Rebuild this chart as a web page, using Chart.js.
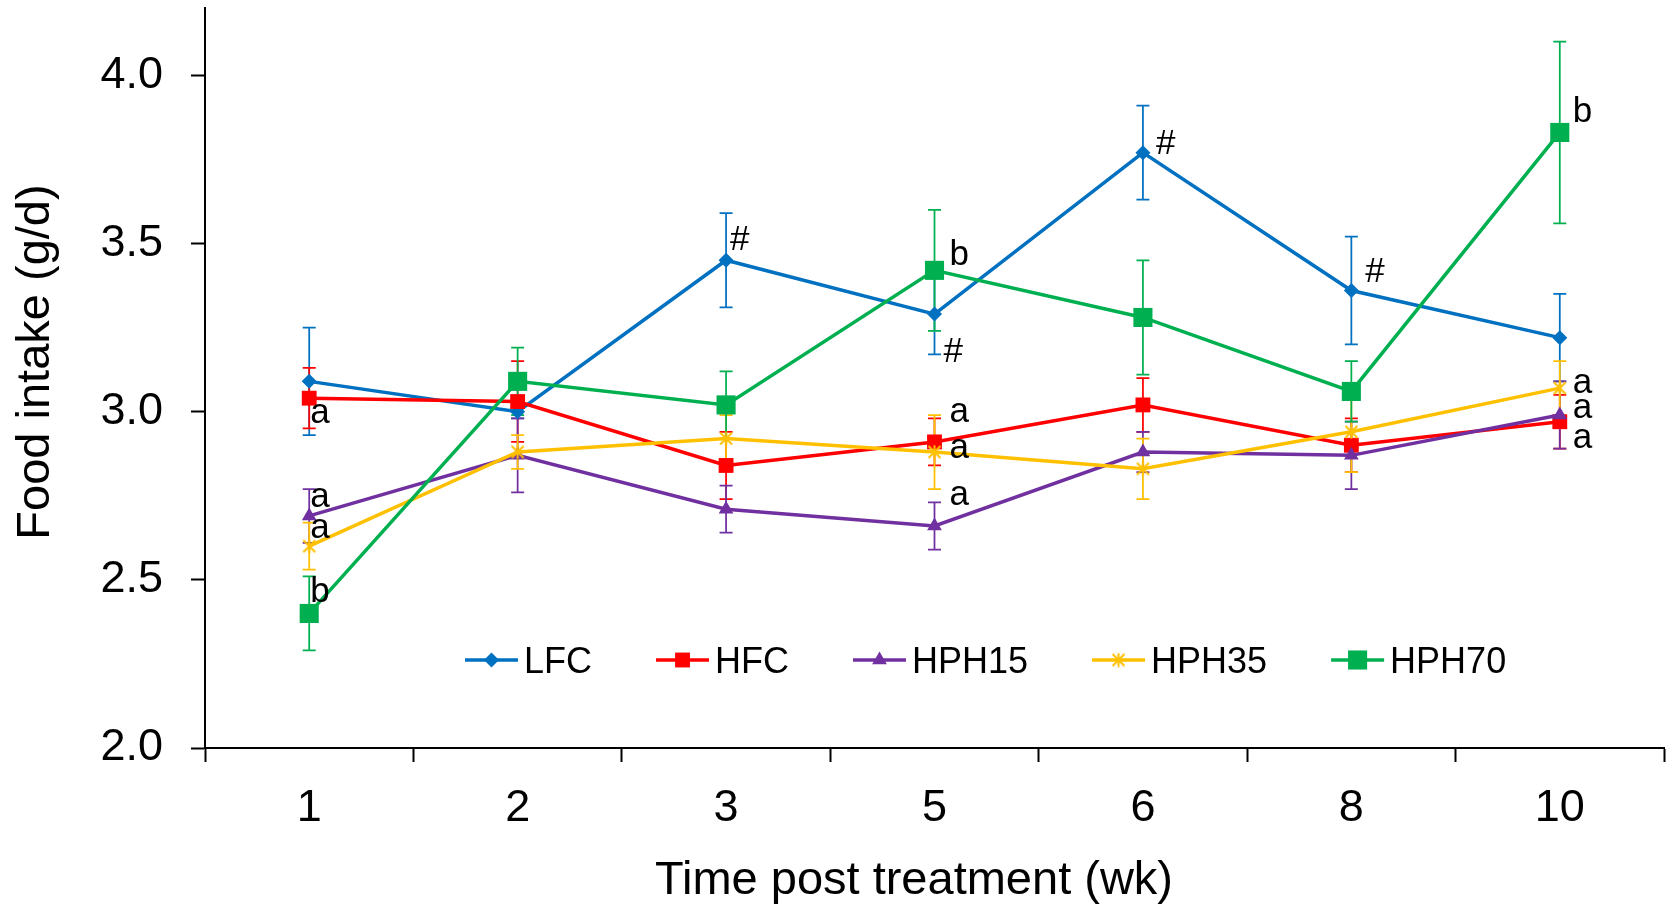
<!DOCTYPE html>
<html><head><meta charset="utf-8">
<script src="https://cdn.jsdelivr.net/npm/chart.js@4.4.0/dist/chart.umd.min.js"></script>
<style>html,body{margin:0;padding:0;background:#fff}#wrap{width:1669px;height:906px;position:relative}canvas{display:block}</style>
</head><body><div id="wrap"><canvas id="c" width="1669" height="906"></canvas></div>
<script>
// ---------- DATA ----------
const categories = ['1', '2', '3', '5', '6', '8', '10'];
const seriesNames = ['LFC', 'HFC', 'HPH15', 'HPH35', 'HPH70'];
const LFC       = [3.09, 3.00, 3.45, 3.29, 3.77, 3.36, 3.22];
const LFC_err   = [0.16, 0.02, 0.14, 0.12, 0.14, 0.16, 0.13];
const HFC       = [3.04, 3.03, 2.84, 2.91, 3.02, 2.90, 2.97];
const HFC_err   = [0.09, 0.12, 0.10, 0.07, 0.08, 0.08, 0.08];
const HPH15     = [2.69, 2.87, 2.71, 2.66, 2.88, 2.87, 2.99];
const HPH15_err = [0.08, 0.11, 0.07, 0.07, 0.06, 0.10, 0.10];
const HPH35     = [2.60, 2.88, 2.92, 2.88, 2.83, 2.94, 3.07];
const HPH35_err = [0.07, 0.05, 0.07, 0.11, 0.09, 0.12, 0.08];
const HPH70     = [2.40, 3.09, 3.02, 3.42, 3.28, 3.06, 3.83];
const HPH70_err = [0.11, 0.10, 0.10, 0.18, 0.17, 0.09, 0.27];
const yTicks = [2.0, 2.5, 3.0, 3.5, 4.0];
const yMin = 2.0, yMax = 4.2;
const xTitle = 'Time post treatment (wk)';
const yTitle = 'Food intake (g/d)';
// significance letters: category index, value (text baseline), text
const annCat   = [0, 0, 0, 0, 2, 3, 3, 3, 3, 3, 4, 5, 6, 6, 6, 6];
const annValue = [2.965, 2.717, 2.623, 2.435, 3.48, 3.435, 3.148, 2.968, 2.863, 2.722, 3.765, 3.386, 3.861, 3.054, 2.98, 2.891];
const annText  = ['a', 'a', 'a', 'b', '#', 'b', '#', 'a', 'a', 'a', '#', '#', 'b', 'a', 'a', 'a'];

// ---------- STYLE ----------
const FONT = "'Liberation Sans', Arial, Helvetica, sans-serif";
const colors = ['#0070C0', '#FF0000', '#7030A0', '#FFC000', '#00B050'];
const annDx = [1, 1, 1, 1, 4, 15, 9, 15, 15, 15, 13, 14, 13, 13, 13, 13];

function makeStar(color, size) {
  const c = document.createElement('canvas');
  c.width = size; c.height = size;
  const g = c.getContext('2d');
  g.strokeStyle = color; g.lineWidth = 2; g.lineCap = 'butt';
  const p = 1.5, q = size - 1.5, m = size / 2;
  g.beginPath();
  g.moveTo(p, p); g.lineTo(q, q);
  g.moveTo(q, p); g.lineTo(p, q);
  g.moveTo(m, 0.5); g.lineTo(m, size - 0.5);
  g.stroke();
  return c;
}
const starImg = makeStar(colors[3], 15);
const pointStyles = ['rectRot', 'rect', 'triangle', starImg, 'rect'];
const pointRadii = [7.5, 10.5, 8.5, 7.5, 13.5];

const values = [LFC, HFC, HPH15, HPH35, HPH70];
const errors = [LFC_err, HFC_err, HPH15_err, HPH35_err, HPH70_err];

const datasets = seriesNames.map((n, i) => ({
  label: n,
  data: values[i],
  borderColor: colors[i],
  backgroundColor: colors[i],
  borderWidth: 3.5,
  pointStyle: pointStyles[i],
  pointRadius: pointRadii[i],
  pointHoverRadius: pointRadii[i],
  pointBorderWidth: 0,
  pointBackgroundColor: colors[i],
  pointBorderColor: colors[i],
  tension: 0,
  clip: false,
  order: seriesNames.length - i
}));

const errorBarPlugin = {
  id: 'errorBars',
  beforeDatasetsDraw(chart) {
    const ctx = chart.ctx, xs = chart.scales.x, ys = chart.scales.y;
    ctx.save();
    ctx.lineWidth = 1.75;
    values.forEach((vals, si) => {
      ctx.strokeStyle = colors[si];
      vals.forEach((v, ci) => {
        const x = xs.getPixelForValue(ci);
        const yt = ys.getPixelForValue(v + errors[si][ci]);
        const yb = ys.getPixelForValue(v - errors[si][ci]);
        ctx.beginPath();
        ctx.moveTo(x, yt); ctx.lineTo(x, yb);
        ctx.moveTo(x - 6.5, yt); ctx.lineTo(x + 6.5, yt);
        ctx.moveTo(x - 6.5, yb); ctx.lineTo(x + 6.5, yb);
        ctx.stroke();
      });
    });
    ctx.restore();
  }
};

const annotationPlugin = {
  id: 'annotations',
  afterDatasetsDraw(chart) {
    const ctx = chart.ctx, xs = chart.scales.x, ys = chart.scales.y;
    ctx.save();
    ctx.fillStyle = '#000';
    ctx.font = '35px ' + FONT;
    ctx.textAlign = 'left';
    ctx.textBaseline = 'alphabetic';
    annText.forEach((t, i) => {
      ctx.fillText(t, xs.getPixelForValue(annCat[i]) + annDx[i], ys.getPixelForValue(annValue[i]));
    });
    ctx.restore();
  }
};

const legendTitlePlugin = {
  id: 'legendTitles',
  afterDraw(chart) {
    const ctx = chart.ctx;
    const H = Chart.helpers;
    ctx.save();
    // legend
    const ly = 660;
    let x = 465;
    ctx.font = '36px ' + FONT;
    ctx.textBaseline = 'alphabetic';
    ctx.textAlign = 'left';
    seriesNames.forEach((n, i) => {
      ctx.strokeStyle = colors[i];
      ctx.lineWidth = 3.5;
      ctx.beginPath(); ctx.moveTo(x, ly); ctx.lineTo(x + 53, ly); ctx.stroke();
      ctx.fillStyle = colors[i];
      H.drawPoint(ctx, { pointStyle: pointStyles[i], radius: pointRadii[i], rotation: 0, borderWidth: 0 }, x + 26.5, ly);
      ctx.fillStyle = '#000';
      const tx = x + 59;
      ctx.fillText(n, tx, ly + 13);
      x = tx + ctx.measureText(n).width + 64;
    });
    // axis titles
    ctx.font = '47px ' + FONT;
    ctx.fillStyle = '#000';
    ctx.textAlign = 'center';
    ctx.fillText(xTitle, 914, 894);
    ctx.translate(49, 362);
    ctx.rotate(-Math.PI / 2);
    ctx.fillText(yTitle, 0, 0);
    ctx.restore();
  }
};

new Chart(document.getElementById('c'), {
  type: 'line',
  data: { labels: categories, datasets },
  options: {
    responsive: false,
    animation: false,
    devicePixelRatio: 1,
    layout: { autoPadding: false, padding: { top: 8, right: 5, left: 0, bottom: 0 } },
    plugins: { legend: { display: false }, tooltip: { enabled: false } },
    scales: {
      x: {
        type: 'category',
        offset: true,
        grid: { offset: true, drawOnChartArea: false, drawTicks: true, tickLength: 14, tickWidth: 2, tickColor: '#000' },
        border: { display: true, color: '#000', width: 2 },
        ticks: { color: '#000', font: { size: 45, family: FONT }, padding: 20, maxRotation: 0, autoSkip: false },
        afterFit(s) { s.height = 158; s.paddingLeft = 0; s.paddingRight = 0; }
      },
      y: {
        min: yMin, max: yMax,
        grid: { drawOnChartArea: false, drawTicks: true, tickLength: 14, tickWidth: 2, tickColor: '#000' },
        border: { display: true, color: '#000', width: 2 },
        ticks: { stepSize: 0.5, color: '#000', font: { size: 45, family: FONT }, padding: 28, callback: v => Number(v).toFixed(1) },
        afterBuildTicks(s) { s.ticks = yTicks.map(v => ({ value: v })); },
        afterFit(s) { s.width = 205; s.paddingTop = 0; s.paddingBottom = 0; }
      }
    }
  },
  plugins: [errorBarPlugin, annotationPlugin, legendTitlePlugin]
});
</script>
</body></html>
